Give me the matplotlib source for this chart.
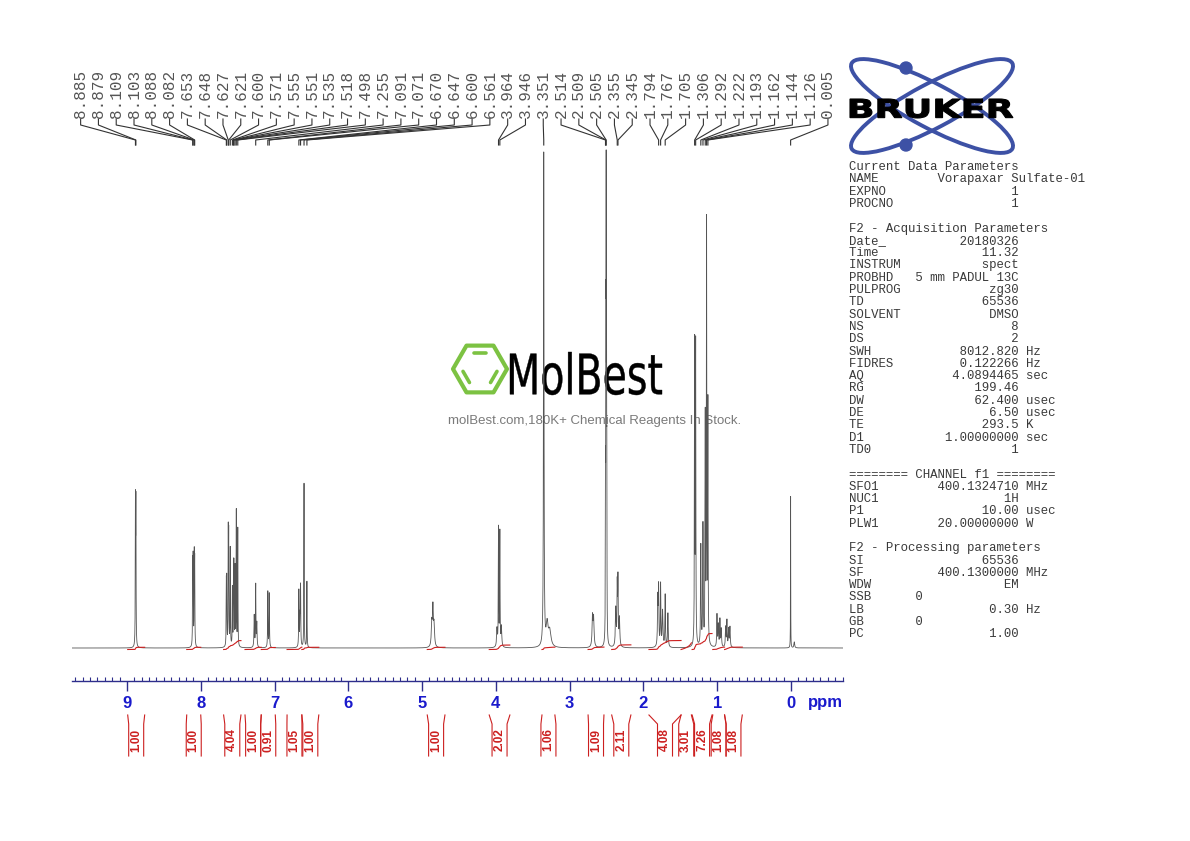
"""
1H NMR spectrum (Bruker style) of Vorapaxar Sulfate, redrawn with matplotlib.
"""

import numpy as np
import matplotlib
matplotlib.use('Agg')
import matplotlib.pyplot as plt
from matplotlib.patches import Ellipse, Circle, Polygon, PathPatch
from matplotlib.textpath import TextPath
from matplotlib.font_manager import FontProperties
from matplotlib.ticker import MultipleLocator
from matplotlib.transforms import blended_transform_factory, Affine2D

# ---- data ----
# peaks: position (ppm), height (plot units above baseline), half width (ppm)
peak_ppm = [8.885, 8.879,
            8.109, 8.103, 8.088, 8.082,
            7.653, 7.648, 7.627, 7.621, 7.600, 7.571, 7.555, 7.551, 7.535, 7.518, 7.498,
            7.275, 7.255, 7.240,
            7.091, 7.071,
            6.670, 6.655, 6.647, 6.600, 6.561,
            4.868, 4.853, 4.838,
            3.985, 3.964, 3.946, 3.925,
            3.351, 3.305, 3.270,
            2.690, 2.675,
            2.514, 2.509, 2.505, 2.500, 2.496,
            2.375, 2.355, 2.345, 2.325,
            1.805, 1.794, 1.767, 1.740, 1.705, 1.668,
            1.306, 1.292, 1.222, 1.193, 1.162, 1.144, 1.126,
            1.003, 0.985, 0.963, 0.945, 0.885, 0.868, 0.845, 0.827,
            0.005, -0.045]
peak_height = [138, 136,
               78, 82, 86, 80,
               58, 60, 108, 104, 98, 58, 66, 66, 78, 135, 118,
               32, 62, 24,
               56, 54,
               56, 28, 58, 164, 66,
               24, 36, 22,
               18, 118, 114, 20,
               493, 22, 16,
               30, 28,
               140, 250, 400, 250, 140,
               38, 58, 64, 28,
               48, 56, 62, 36, 52, 34,
               300, 298, 100, 120, 225, 420, 240,
               32, 22, 27, 18, 20, 26, 18, 20,
               152, 6]
peak_width = [0.0025, 0.0025,
              0.0025, 0.0025, 0.0025, 0.0025,
              0.0025, 0.0025, 0.0025, 0.0025, 0.0025, 0.0025, 0.0025, 0.0025, 0.0025, 0.0025, 0.0025,
              0.004, 0.003, 0.004,
              0.003, 0.003,
              0.003, 0.004, 0.003, 0.0025, 0.0025,
              0.008, 0.006, 0.008,
              0.006, 0.003, 0.003, 0.006,
              0.004, 0.015, 0.02,
              0.007, 0.007,
              0.002, 0.002, 0.002, 0.002, 0.002,
              0.006, 0.004, 0.004, 0.006,
              0.005, 0.004, 0.004, 0.006, 0.004, 0.005,
              0.003, 0.003, 0.004, 0.004, 0.003, 0.003, 0.003,
              0.004, 0.005, 0.004, 0.005, 0.005, 0.004, 0.005, 0.005,
              0.0015, 0.006]

# picked peak labels along the top
label_ppm = [8.885, 8.879, 8.109, 8.103, 8.088, 8.082, 7.653, 7.648, 7.627,
             7.621, 7.600, 7.571, 7.555, 7.551, 7.535, 7.518, 7.498, 7.255,
             7.091, 7.071, 6.670, 6.647, 6.600, 6.561, 3.964, 3.946, 3.351,
             2.514, 2.509, 2.505, 2.355, 2.345, 1.794, 1.767, 1.705, 1.306,
             1.292, 1.222, 1.193, 1.162, 1.144, 1.126, 0.005]

# integral regions (ppm) and values
integ_hi = [8.99, 8.19, 7.69, 7.40, 7.18, 6.83, 6.63, 4.93, 4.09, 3.375,
            2.75, 2.43, 1.925, 1.49, 1.34, 1.06, 0.90]
integ_lo = [8.76, 8.00, 7.455, 7.18, 6.99, 6.63, 6.40, 4.69, 3.81, 3.20,
            2.535, 2.17, 1.49, 1.35, 1.07, 0.90, 0.66]
integ_val = ['1.00', '1.00', '4.04', '1.00', '0.91', '1.05', '1.00', '1.00', '2.02',
             '1.06', '1.09', '2.11', '4.08', '3.01', '7.26', '1.08', '1.08']

# acquisition / processing parameter block (name, value, unit)
params = [('Current Data Parameters', None, None),
          ('NAME', 'Vorapaxar Sulfate-01', 'left'),
          ('EXPNO', '1', ''),
          ('PROCNO', '1', ''),
          ('', None, None),
          ('F2 - Acquisition Parameters', None, None),
          ('Date_', '20180326', ''),
          ('Time', '11.32', ''),
          ('INSTRUM', 'spect', ''),
          ('PROBHD', '5 mm PADUL 13C', ''),
          ('PULPROG', 'zg30', ''),
          ('TD', '65536', ''),
          ('SOLVENT', 'DMSO', ''),
          ('NS', '8', ''),
          ('DS', '2', ''),
          ('SWH', '8012.820', 'Hz'),
          ('FIDRES', '0.122266', 'Hz'),
          ('AQ', '4.0894465', 'sec'),
          ('RG', '199.46', ''),
          ('DW', '62.400', 'usec'),
          ('DE', '6.50', 'usec'),
          ('TE', '293.5', 'K'),
          ('D1', '1.00000000', 'sec'),
          ('TD0', '1', ''),
          ('', None, None),
          ('======== CHANNEL f1 ========', None, None),
          ('SFO1', '400.1324710', 'MHz'),
          ('NUC1', '1H', ''),
          ('P1', '10.00', 'usec'),
          ('PLW1', '20.00000000', 'W'),
          ('', None, None),
          ('F2 - Processing parameters', None, None),
          ('SI', '65536', ''),
          ('SF', '400.1300000', 'MHz'),
          ('WDW', 'EM', ''),
          ('SSB', '0', 'short'),
          ('LB', '0.30', 'Hz'),
          ('GB', '0', 'short'),
          ('PC', '1.00', '')]

# ---- build the spectrum ----
ppm = np.linspace(-0.705, 9.745, 40000)
spec = np.zeros_like(ppm)
for p0, h, w in zip(peak_ppm, peak_height, peak_width):
    spec += h / (1 + ((ppm - p0) / w)**2)

navy = '#2e2e8c'
tick_blue = '#1a1acc'
red = '#cc1f1f'

fig = plt.figure(figsize=(11.9, 8.41), dpi=100)

# overlay in pixel units (y down) for all the decorations
over = fig.add_axes([0, 0, 1, 1])
over.set_xlim(0, 1190)
over.set_ylim(841, 0)
over.axis('off')

# spectrum axes: baseline at y=648 px, scale line at y=681 px
ax = fig.add_axes([72/1190, (841-681)/841, (843-72)/1190, (681-140)/841])
ax.patch.set_visible(False)
ax.set_xlim(9.745, -0.705)
ax.set_ylim(-33, 508)
ax.plot(ppm, spec, color='#555555', lw=0.6)

for s in ['top', 'left', 'right']:
    ax.spines[s].set_visible(False)
ax.spines['bottom'].set_color(navy)
ax.spines['bottom'].set_linewidth(1.0)
ax.set_yticks([])
ax.set_xticks(range(0, 10))
ax.xaxis.set_minor_locator(MultipleLocator(0.1))
ax.tick_params(axis='x', which='major', direction='out', length=7, width=1.0,
               color=navy, labelcolor=tick_blue, labelsize=12, pad=4)
ax.tick_params(axis='x', which='minor', direction='in', length=3, width=0.8, color=navy)
plt.setp(ax.get_xticklabels(), fontweight='bold', family='Liberation Sans')

tr = blended_transform_factory(ax.transData, over.transData)
ax.text(-0.47, 702, 'ppm', transform=tr, ha='center', va='center', color=tick_blue,
        fontsize=12, fontweight='bold', family='Liberation Sans', clip_on=False)

# integral curves on the baseline
for lo, hi, val in zip(integ_lo, integ_hi, integ_val):
    m = (ppm >= lo) & (ppm <= hi)
    x = ppm[m][::-1]
    cum = np.cumsum(spec[m][::-1])
    cum = cum / cum[-1]
    ax.plot(x, -1.5 + 2.2 * float(val) * cum, color=red, lw=0.8)

# integral brackets and values under the scale
half = 7.5 / 73.78
for lo, hi, val in zip(integ_lo, integ_hi, integ_val):
    c = (lo + hi) / 2
    ax.plot([hi, c + half, c + half], [715, 724, 756], transform=tr, color=red, lw=0.8, clip_on=False)
    ax.plot([lo, c - half, c - half], [715, 724, 756], transform=tr, color=red, lw=0.8, clip_on=False)
    ax.text(c, 740, val, transform=tr, rotation=90, ha='center', va='center', color=red,
            fontsize=8.5, fontweight='bold', family='Liberation Sans', clip_on=False)

# peak labels with leader lines
label_x = np.linspace(9.628, -0.501, len(label_ppm))
for lx, p0 in zip(label_x, label_ppm):
    ax.plot([lx, lx, p0, p0], [119, 125, 140, 145], transform=tr, color='#333333',
            lw=0.8, clip_on=False)
    ax.text(lx, 118, '%.3f' % p0, transform=tr, rotation=90, ha='center', va='bottom',
            family='Liberation Mono', fontsize=11.5, color='#555555', clip_on=False)

# parameter block
for i, (name, value, unit) in enumerate(params):
    if value is None:
        line = name
    elif unit == 'left':
        line = '%-12s%s' % (name, value)
    elif unit == 'short':
        line = '%-9s%s' % (name, value)
    else:
        line = '%-8s%15s' % (name, value)
        if unit:
            line += ' ' + unit
    over.text(849, 167 + i * 12.3, line, ha='left', va='center', family='Liberation Mono',
              fontsize=8.9, color='#3a3a3a')

# Bruker logo
blue = '#3d51a5'
for ang in [28, -28]:
    over.add_patch(Ellipse((932, 106), 182, 44, angle=ang, fill=False, ec=blue, lw=2.8))
for cy in [68, 145]:
    over.add_patch(Circle((906, cy), 6, color=blue))
tp = TextPath((0, 0), 'BRUKER', size=1, prop=FontProperties(family='DejaVu Sans', weight='bold'))
bb = tp.get_extents()
t = (Affine2D().translate(-bb.x0, -bb.y0)
     .scale(163 / bb.width, -19 / bb.height).translate(850, 118))
over.add_patch(PathPatch(t.transform_path(tp), color='black', lw=0.8))

# MolBest watermark
green = '#7cc242'
cx, cy, R = 480, 369, 27
ang = np.radians(np.arange(0, 360, 60))
over.add_patch(Polygon(np.c_[cx + R*np.cos(ang), cy - R*np.sin(ang)], closed=True,
                       fill=False, ec=green, lw=3, joinstyle='round'))
for a0 in [60, 180, 300]:
    a = np.radians([a0, a0 + 60])
    px = cx + 0.68*R*np.cos(a)
    py = cy - 0.68*R*np.sin(a)
    mx, my = px.mean(), py.mean()
    over.plot(mx + 0.7*(px - mx), my + 0.7*(py - my), color=green, lw=2.6,
              solid_capstyle='round')
tp = TextPath((0, 0), 'MolBest', size=1, prop=FontProperties(family='DejaVu Sans'))
bb = tp.get_extents()
t = (Affine2D().translate(-bb.x0, -bb.y0)
     .scale(152 / bb.width, -43 / bb.height).translate(510, 395))
over.add_patch(PathPatch(t.transform_path(tp), color='black', lw=0.3))
over.text(448, 421, 'molBest.com,180K+ Chemical Reagents In Stock.', ha='left', va='center',
          family='Liberation Sans', fontsize=9.5, color='#7a7a7a')

fig.savefig('out.png', dpi=100)
